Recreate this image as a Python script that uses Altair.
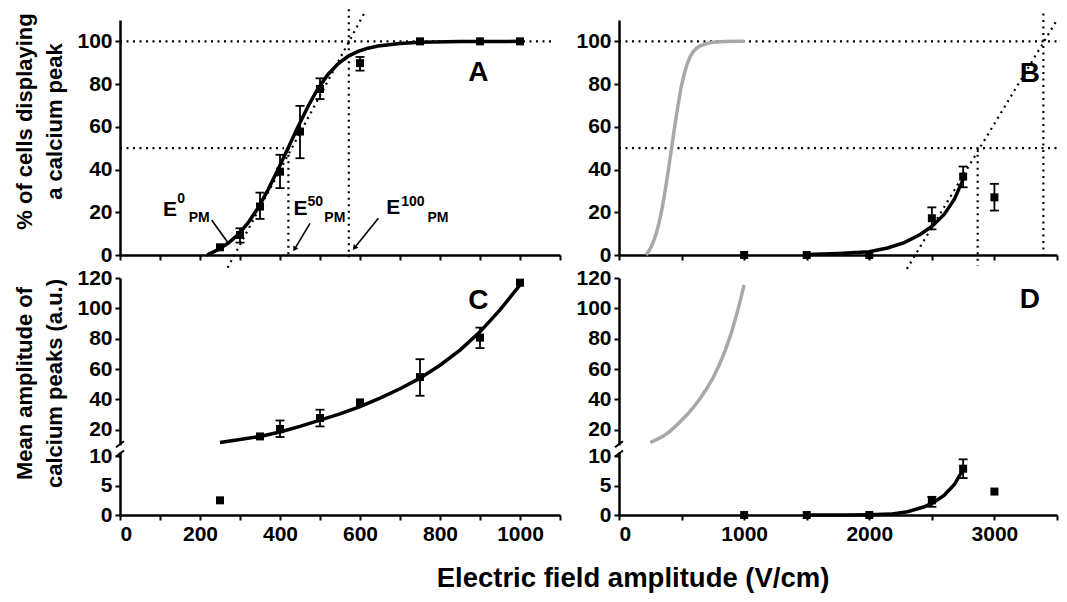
import altair as alt
import pandas as pd

FONT = "Liberation Sans"

# ---------------- values ----------------
# Panel A : % of cells displaying a calcium peak (0-1000 V/cm)
a_x = [250, 300, 350, 400, 450, 500, 600, 750, 900, 1000]
a_y = [3.6, 9.4, 22.7, 39.0, 57.8, 77.7, 89.8, 100, 100, 100]
a_lo = [None, 5.8, 16.9, 31.3, 45.3, 73.0, 86.3, None, None, None]
a_hi = [None, 12.5, 29.2, 46.9, 69.8, 82.7, 92.7, None, None, None]
a_fit_x = [218, 245, 270, 295, 320, 345, 370, 395, 420, 445, 470, 495, 520,
           545, 570, 595, 620, 645, 700, 750, 850, 1000]
a_fit_y = [0, 2.5, 5.5, 9.5, 15, 22, 30.5, 40, 50, 60, 69.5, 78, 84.5,
           89.5, 93, 95.3, 96.8, 97.8, 99, 99.6, 99.9, 100]

# Panel B : same quantity, 0-3500 V/cm
b_x = [1000, 1500, 2000, 2500, 2750, 3000]
b_y = [0, 0, 0, 17.2, 36.7, 27.0]
b_lo = [None, None, None, 12.0, 31.7, 20.8]
b_hi = [None, None, None, 22.3, 41.4, 33.3]
b_fit_x = [1500, 1750, 2000, 2145, 2280, 2410, 2505, 2600, 2680, 2750]
b_fit_y = [0.2, 0.7, 1.5, 3.3, 5.8, 9.7, 13.6, 19.1, 26.1, 35.4]

# Panel C : mean amplitude of calcium peaks (a.u.)
c_x = [250, 350, 400, 500, 600, 750, 900, 1000]
c_y = [2.5, 15.6, 20.5, 27.7, 38.0, 54.7, 80.7, 116.9]
c_lo = [None, None, 15.2, 22.2, None, 42.4, 73.8, None]
c_hi = [None, None, 26.1, 33.2, None, 66.5, 87.3, None]
c_fit_x = [250, 300, 350, 400, 450, 500, 550, 600, 650, 700, 750, 800,
           850, 900, 950, 1000]
c_fit_y = [11.6, 13.5, 15.6, 18.5, 22.2, 26.3, 30.5, 35.3, 40.8, 47, 54,
           62.5, 72.5, 84.5, 99, 115.4]

# Panel D
d_x = [1000, 1500, 2000, 2500, 2750, 3000]
d_y = [0, 0, 0, 2.5, 7.9, 4.0]
d_lo = [None, None, None, 1.4, 6.3, None]
d_hi = [None, None, None, 3.1, 9.5, None]
d_fit_x = [1500, 1800, 2000, 2170, 2305, 2440, 2510, 2600, 2680, 2750]
d_fit_y = [0, 0.02, 0.05, 0.15, 0.55, 1.4, 2.1, 3.4, 5.2, 7.8]

# dotted guide lines (E0 / E50 / E100 construction)
a_g_x1 = [0, 0, 421, 572, 269]
a_g_y1 = [100, 50, 50, 115, -6]
a_g_x2 = [1085, 410, 421, 572, 610]
a_g_y2 = [100, 50, -1, -1, 113]

b_g_x1 = [0, 0, 2866, 3391, 2300]
b_g_y1 = [100, 50, 50, 113, -6.5]
b_g_x2 = [3500, 3500, 2866, 3391, 3500]
b_g_y2 = [100, 50, -5, 0, 110]

# annotations
a_t = ["E", "0", "PM", "E", "50", "PM", "E", "100", "PM", "A"]
a_t_x = [125, 153, 198, 451, 488, 537, 683, 732, 795, 896]
a_t_y = [20.9, 26.0, 17.2, 21.4, 25.0, 17.2, 22.0, 25.0, 17.2, 85]
a_t_fs = [21, 14, 14, 21, 14, 14, 21, 14, 14, 28]
a_arrow_x1 = [229, 475, 646]
a_arrow_y1 = [16.4, 14.8, 17.2]
a_arrow_x2 = [271, 437.5, 587.5]
a_arrow_y2 = [5.5, 3.1, 3.6]
a_head_x = [437.5, 587.5]
a_head_y = [3.1, 3.6]
a_head_ang = [211, 219]

b_t, b_t_x, b_t_y, b_t_fs = ["B"], [3283], [84.7], [28]
c_t, c_t_x, c_t_y, c_t_fs = ["C"], [896], [104.6], [28]
d_t, d_t_x, d_t_y, d_t_fs = ["D"], [3283], [105.5], [28]

# ---------------- scales / axes ----------------
AX = dict(domainColor="black", domainWidth=2.5, tickColor="black", tickWidth=2,
          tickSize=5, labelFont=FONT, labelFontWeight="bold", labelFontSize=21,
          labelColor="black", labelPadding=3, grid=False, zindex=0,
          titleFont=FONT, titleFontWeight="bold", titleFontSize=22,
          titleColor="black", titleLineHeight=30, titlePadding=10)

XS = {
    "A": alt.Scale(domain=[0, 1100], nice=False, zero=False),
    "B": alt.Scale(domain=[0, 3500], nice=False, zero=False),
}
XS["C"], XS["D"] = XS["A"], XS["B"]
YS = {
    "A": alt.Scale(domain=[0, 110], nice=False, zero=False),
    "C": alt.Scale(domain=[0, 10, 11, 120], range=[237, 178.4, 165.4, 0],
                   nice=False, zero=False),
}
YS["B"], YS["D"] = YS["A"], YS["C"]

XA = {
    "A": alt.Axis(values=list(range(0, 1101, 100)), labels=False, title="", **AX),
    "B": alt.Axis(values=list(range(0, 3501, 500)), labels=False, title="", **AX),
    "C": alt.Axis(values=list(range(0, 1101, 100)), format="d", title="",
                  labelExpr="datum.value % 200 == 0 && datum.value <= 1000 ? datum.label : ''",
                  **AX),
    "D": alt.Axis(values=list(range(0, 3501, 500)), format="d", title="",
                  labelExpr="datum.value % 1000 == 0 ? datum.label : ''", **AX),
}
YA = {
    "A": alt.Axis(values=[0, 20, 40, 60, 80, 100], format="d", titleY=101,
                  title=["% of cells displaying", "a calcium peak"], **AX),
    "B": alt.Axis(values=[0, 20, 40, 60, 80, 100], format="d", title="", **AX),
    "C": alt.Axis(values=[0, 5, 10, 20, 40, 60, 80, 100, 120], format="d",
                  titleY=105,
                  title=["Mean amplitude of", "calcium peaks (a.u.)"], **AX),
    "D": alt.Axis(values=[0, 5, 10, 20, 40, 60, 80, 100, 120], format="d",
                  title="", **AX),
}
W = {"A": 440, "B": 438, "C": 440, "D": 438}
H = {"A": 235, "B": 235, "C": 237, "D": 237}


def pts_df(x, y, lo, hi):
    return pd.DataFrame({"x": x, "y": y, "lo": lo, "hi": hi})


def xy_df(x, y):
    return pd.DataFrame({"x": x, "y": y})


def seg_df(x1, y1, x2, y2):
    return pd.DataFrame({"x": x1, "y": y1, "x2": x2, "y2": y2})


def txt_df(t, x, y, fs):
    return pd.DataFrame({"t": t, "x": x, "y": y, "fs": fs})


def panel(key, pts, fit, texts, gray=None, guides=None, arrows=None,
          heads=None, brk=False):
    X = lambda f: alt.X(f, type="quantitative", scale=XS[key], axis=XA[key])
    Y = lambda f: alt.Y(f, type="quantitative", scale=YS[key], axis=YA[key])
    layers = []
    if guides is not None:
        layers.append(alt.Chart(guides).mark_rule(
            color="black", strokeWidth=2.2, strokeDash=[2, 4.5]).encode(
            x=X("x"), y=Y("y"), x2="x2", y2="y2"))
    if gray is not None:
        layers.append(alt.Chart(gray).mark_line(
            color="#a8a8a8", strokeWidth=3.5).encode(x=X("x"), y=Y("y")))
    layers.append(alt.Chart(fit).mark_line(
        color="black", strokeWidth=3.5).encode(x=X("x"), y=Y("y")))
    err = pts.dropna(subset=["lo"])
    layers.append(alt.Chart(err).mark_rule(color="black", strokeWidth=1.8).encode(
        x=X("x"), y=Y("lo"), y2="hi"))
    layers.append(alt.Chart(err).mark_tick(
        color="black", orient="horizontal", size=9, thickness=1.8, opacity=1).encode(
        x=X("x"), y=Y("lo")))
    layers.append(alt.Chart(err).mark_tick(
        color="black", orient="horizontal", size=9, thickness=1.8, opacity=1).encode(
        x=X("x"), y=Y("hi")))
    layers.append(alt.Chart(pts).mark_square(
        color="black", size=64, opacity=1).encode(x=X("x"), y=Y("y")))
    if arrows is not None:
        layers.append(alt.Chart(arrows).mark_rule(
            color="black", strokeWidth=1.6).encode(
            x=X("x"), y=Y("y"), x2="x2", y2="y2"))
    if heads is not None:
        layers.append(alt.Chart(heads).mark_point(
            shape="triangle", filled=True, color="black", size=35, opacity=1).encode(
            x=X("x"), y=Y("y"), angle=alt.Angle("ang:Q", scale=None)))
    if brk:
        bw = pd.DataFrame({"x": [0], "y": [10.3], "y2": [10.85]})
        layers.append(alt.Chart(bw).mark_rule(color="white", strokeWidth=7).encode(
            x=X("x"), y=Y("y"), y2="y2"))
        bs = pd.DataFrame({"x": [0, 0], "y": [10.94, 10.22]})
        layers.append(alt.Chart(bs).mark_rule(
            color="black", strokeWidth=2, xOffset=-4, x2Offset=4,
            yOffset=3, y2Offset=-3).encode(x=X("x"), x2="x", y=Y("y"), y2="y"))
    layers.append(alt.Chart(texts).mark_text(
        font=FONT, fontWeight="bold", color="black", align="center",
        baseline="middle").encode(
        x=X("x"), y=Y("y"), text="t:N", size=alt.Size("fs:Q", scale=None)))
    return alt.layer(*layers).properties(width=W[key], height=H[key])


A = panel("A", pts_df(a_x, a_y, a_lo, a_hi), xy_df(a_fit_x, a_fit_y),
          txt_df(a_t, a_t_x, a_t_y, a_t_fs),
          guides=seg_df(a_g_x1, a_g_y1, a_g_x2, a_g_y2),
          arrows=seg_df(a_arrow_x1, a_arrow_y1, a_arrow_x2, a_arrow_y2),
          heads=pd.DataFrame({"x": a_head_x, "y": a_head_y, "ang": a_head_ang}))
B = panel("B", pts_df(b_x, b_y, b_lo, b_hi), xy_df(b_fit_x, b_fit_y),
          txt_df(b_t, b_t_x, b_t_y, b_t_fs),
          gray=xy_df(a_fit_x, a_fit_y),
          guides=seg_df(b_g_x1, b_g_y1, b_g_x2, b_g_y2))
C = panel("C", pts_df(c_x, c_y, c_lo, c_hi), xy_df(c_fit_x, c_fit_y),
          txt_df(c_t, c_t_x, c_t_y, c_t_fs), brk=True)
D = panel("D", pts_df(d_x, d_y, d_lo, d_hi), xy_df(d_fit_x, d_fit_y),
          txt_df(d_t, d_t_x, d_t_y, d_t_fs),
          gray=xy_df(c_fit_x, c_fit_y), brk=True)

col_left = alt.vconcat(A, C, spacing=23, bounds="flush")
col_right = alt.vconcat(B, D, spacing=23, bounds="flush")
chart = alt.hconcat(
    col_left, col_right, spacing=14,
    title=alt.TitleParams("Electric field amplitude (V/cm)", orient="bottom",
                          anchor="middle", font=FONT, fontSize=27.5,
                          fontWeight="bold", color="black", offset=21, dx=97),
).properties(
    padding={"left": 5, "top": 0, "right": 0, "bottom": 2}
).configure_view(strokeWidth=0)

chart.save("out.html", embed_options={"renderer": "svg", "actions": False})
